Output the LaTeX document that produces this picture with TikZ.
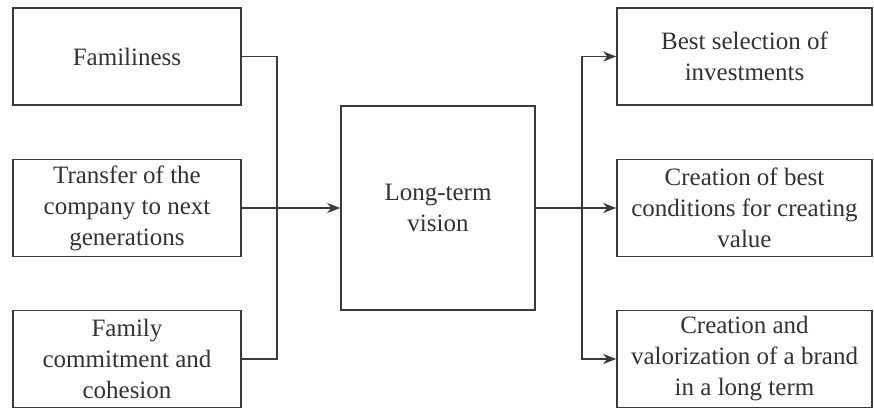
\documentclass[tikz,border=0pt]{standalone}
\usepackage{fontspec}
\setmainfont{Liberation Serif}
\usetikzlibrary{arrows.meta}
\definecolor{ln}{HTML}{3A3A3A}
\definecolor{tx}{HTML}{333333}
\tikzset{
  box/.style={draw=ln, line width=1.5pt, fill=white, inner sep=0pt, align=center,
    text=tx, font=\fontsize{25}{31}\selectfont},
  lbox/.style={box, minimum width=228pt, minimum height=97pt},
  rbox/.style={box, minimum width=255pt, minimum height=97pt},
  conn/.style={draw=ln, line width=1.5pt},
  arr/.style={conn, -{Stealth[length=13pt,width=10pt,inset=4pt]}}
}
\begin{document}
\begin{tikzpicture}[x=1pt,y=-1pt]
\useasboundingbox (0,0) rectangle (874,409);
\node[lbox] (l1) at (127,56.5) {Familiness};
\node[lbox] (l2) at (127,208) {Transfer of the\\company to next\\generations};
\node[lbox] (l3) at (127,359) {Family\\commitment and\\cohesion};
\node[box, minimum width=194pt, minimum height=204pt] (c) at (438,208) {Long-term\\vision};
\node[rbox] (r1) at (744.5,56.5) {Best selection of\\investments};
\node[rbox] (r2) at (744.5,208) {Creation of best\\conditions for creating\\value};
\node[rbox] (r3) at (744.5,359) {Creation and\\valorization of a brand\\in a long term};
\coordinate (jl) at (277,208);
\coordinate (jr) at (582,208);
\draw[conn] (l1.east) -| (jl) |- (l3.east);
\draw[arr] (l2.east) -- (c.west);
\draw[arr] (c.east) -- (r2.west);
\draw[arr] (jr) |- (r1.west);
\draw[arr] (jr) |- (r3.west);
\end{tikzpicture}
\end{document}
